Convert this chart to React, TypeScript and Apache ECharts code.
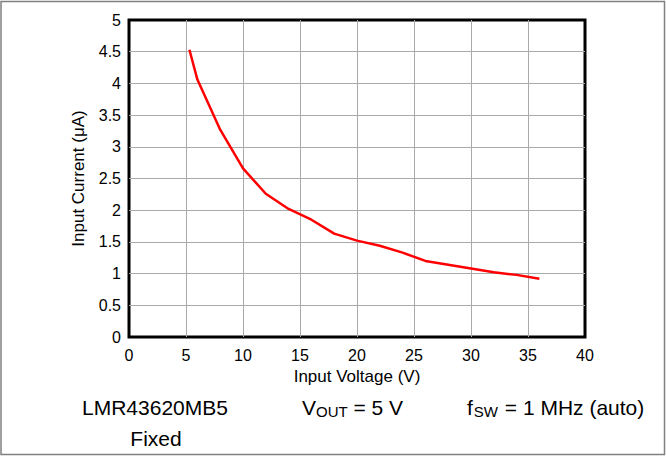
import React, { useEffect, useRef } from "react";
import * as echarts from "echarts";

const inputVoltage = [5.3, 6, 8, 10, 12, 14, 16, 18, 20, 22, 24, 26, 28, 30, 32, 34, 36];
const inputCurrent = [4.53, 4.06, 3.27, 2.66, 2.26, 2.02, 1.85, 1.63, 1.52, 1.44, 1.33, 1.2, 1.14, 1.08, 1.02, 0.98, 0.92];
const xAxisTitle = "Input Voltage (V)";
const yAxisTitle = "Input Current (μA)";
const device = "LMR43620MB5";
const mode = "Fixed";

const FONT = "'Liberation Sans', Arial, sans-serif";

export default function App() {
  const ref = useRef<HTMLDivElement>(null);
  useEffect(() => {
    if (!ref.current) return;
    const chart = echarts.init(ref.current, null, { renderer: "svg" });
    const data = inputVoltage.map((v, i) => [v, inputCurrent[i]]);
    chart.setOption({
      animation: false,
      backgroundColor: "#ffffff",
      textStyle: { fontFamily: FONT },
      grid: {
        left: 129,
        top: 20,
        width: 456,
        height: 317,
        show: true,
        borderColor: "#000000",
        borderWidth: 3,
        backgroundColor: "transparent",
      },
      xAxis: {
        type: "value",
        min: 0,
        max: 40,
        interval: 5,
        name: xAxisTitle,
        nameLocation: "middle",
        nameGap: 30,
        nameTextStyle: { fontSize: 17, color: "#000", fontFamily: FONT },
        axisLine: { show: false },
        axisTick: { show: false },
        axisLabel: { fontSize: 16, color: "#000", margin: 10, fontFamily: FONT },
        splitLine: { show: true, showMinLine: false, showMaxLine: false, lineStyle: { color: "#aaaaaa", width: 1 } },
      },
      yAxis: {
        type: "value",
        min: 0,
        max: 5,
        interval: 0.5,
        name: yAxisTitle,
        nameLocation: "middle",
        nameGap: 42,
        nameTextStyle: { fontSize: 17, color: "#000", fontFamily: FONT },
        axisLine: { show: false },
        axisTick: { show: false },
        axisLabel: { fontSize: 16, color: "#000", margin: 8, fontFamily: FONT },
        splitLine: { show: true, showMinLine: false, showMaxLine: false, lineStyle: { color: "#aaaaaa", width: 1 } },
      },
      series: [
        {
          type: "line",
          data,
          showSymbol: false,
          symbol: "none",
          smooth: false,
          lineStyle: { color: "#ff0000", width: 2.5 },
          z: 5,
        },
      ],
      graphic: [
        {
          type: "rect",
          shape: { x: 1, y: 1.5, width: 663.5, height: 453 },
          style: { fill: "none", stroke: "#808080", lineWidth: 1.5 },
          silent: true,
        },
        {
          type: "text",
          x: 82,
          y: 407,
          style: { text: device, fill: "#000", font: "21px " + FONT, verticalAlign: "middle" },
        },
        {
          type: "text",
          x: 156,
          y: 438,
          style: { text: mode, fill: "#000", font: "21px " + FONT, align: "center", verticalAlign: "middle" },
        },
        {
          type: "text",
          x: 302,
          y: 407,
          style: {
            text: "{m|V}{s|OUT}{m| = 5 V}",
            verticalAlign: "middle",
            rich: {
              m: { fontSize: 21, fontFamily: FONT, fill: "#000", height: 24 },
              s: { fontSize: 15, fontFamily: FONT, fill: "#000", padding: [9, 0, 0, 0] },
            },
          },
        },
        {
          type: "text",
          x: 467,
          y: 407,
          style: {
            text: "{m|f}{s|SW}{m| = 1 MHz (auto)}",
            verticalAlign: "middle",
            rich: {
              m: { fontSize: 21, fontFamily: FONT, fill: "#000", height: 24 },
              s: { fontSize: 15, fontFamily: FONT, fill: "#000", padding: [9, 1, 0, 1] },
            },
          },
        },
      ],
    });
    return () => chart.dispose();
  }, []);
  return (
    <div
      ref={ref}
      style={{ position: "fixed", left: 0, top: 0, width: 666, height: 456, background: "#fff" }}
    />
  );
}
